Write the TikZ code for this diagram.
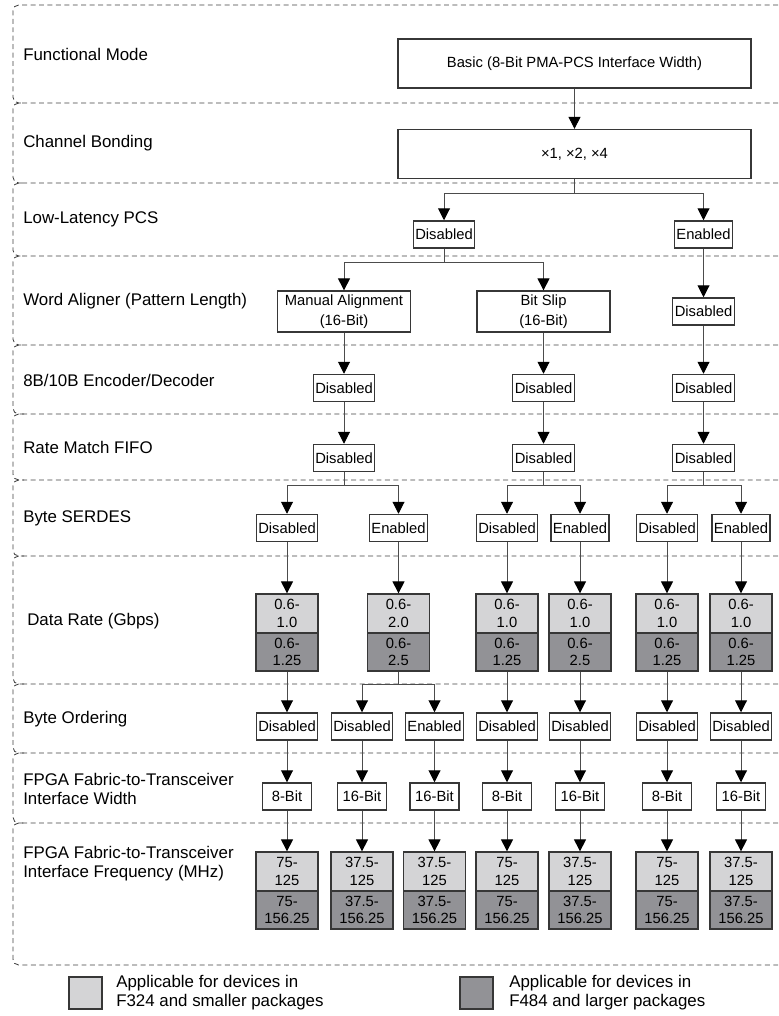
\documentclass[tikz,border=0pt]{standalone}
\usepackage{fontspec}
\setmainfont{Liberation Sans}
\usetikzlibrary{arrows.meta,positioning,calc}
\definecolor{pkglight}{RGB}{212,212,214}
\definecolor{pkgdark}{RGB}{146,146,150}
\definecolor{edge}{RGB}{55,55,55}

\begin{document}
\begin{tikzpicture}[
    x=0.025cm, y=-0.025cm,
    font=\fontsize{10.5}{12.5}\selectfont,
    sect/.style={draw=black!75, dash pattern=on 3.5pt off 2.5pt, line width=0.6pt, rounded corners=4pt},
    lbl/.style={anchor=west, align=left, inner sep=0pt, font=\fontsize{12}{13.5}\selectfont},
    opt/.style={draw=edge, line width=0.9pt, fill=white, minimum height=0.68cm, inner xsep=0.05cm, inner ysep=0pt},
    wide/.style={opt, minimum width=8.825cm, minimum height=1.225cm},
    twoline/.style={opt, minimum width=3.325cm, minimum height=1.025cm, align=center, font=\fontsize{10.5}{14}\selectfont},
    bits/.style={opt, minimum width=1.225cm},
    lo/.style={draw=edge, line width=0.9pt, fill=pkglight, minimum width=1.55cm, minimum height=0.975cm, inner sep=0pt, align=center},
    hi/.style={lo, fill=pkgdark, minimum height=0.95cm},
    arrow/.style={-{Triangle[length=8.5pt, width=8.5pt, color=black]}, draw=black!70, line width=0.7pt}
]
\useasboundingbox (0,0) rectangle (778,1016);

% dashed rows
\foreach \t/\b in {5/103, 103/183, 183/256, 256/345, 345/414, 414/480, 480/556, 556/684, 684/753, 753/823}
  \draw[sect] (778,\t) -- (13,\t) -- (13,\b) -- (24,\b);
\draw[sect] (778,823) -- (13,823) -- (13,965) -- (778,965);

% row labels
\node[lbl] (l1) at (23,54) {Functional Mode};
\node[lbl] (l2) at (23,143) {Channel Bonding};
\node[lbl] (l3) at (23,219.5) {Low-Latency PCS};
\node[lbl] (l4) at (23,301) {Word Aligner (Pattern Length)};
\node[lbl] (l5) at (23,380) {8B/10B Encoder/Decoder};
\node[lbl] (l6) at (23,447) {Rate Match FIFO};
\node[lbl] (l7) at (23,518) {Byte SERDES};
\node[lbl] (l8) at (27,621) {Data Rate (Gbps)};
\node[lbl] (l9) at (23,719) {Byte Ordering};
\node[lbl] (l10) at (23,789) {FPGA Fabric-to-Transceiver\\Interface Width};
\node[lbl] (l11) at (23,864) {FPGA Fabric-to-Transceiver\\Interface Frequency (MHz)};

% upper part
\node[wide] (fm) at (574.5,63.5) {Basic (8-Bit PMA-PCS Interface Width)};
\node[wide] (cb) at (574.5,154) {×1, ×2, ×4};
\node[opt] (ll1) at (444,234.5) {Disabled};
\node[opt] (ll2) at (703.5,234.5) {Enabled};
\node[twoline] (wa1) at (344,311.5) {Manual Alignment\\(16-Bit)};
\node[twoline] (wa2) at (543.5,311.5) {Bit Slip\\(16-Bit)};
\node[opt] (wa3) at (703.5,311.5) {Disabled};
\node[opt] (ed1) at (344,388) {Disabled};
\node[opt] (ed2) at (543.5,388) {Disabled};
\node[opt] (ed3) at (703.5,388) {Disabled};
\node[opt] (rm1) at (344,458) {Disabled};
\node[opt] (rm2) at (543.5,458) {Disabled};
\node[opt] (rm3) at (703.5,458) {Disabled};

% byte serdes
\node[opt] (sd1) at (287,528) {Disabled};
\node[opt] (sd2) at (398.5,528) {Enabled};
\node[opt] (sd3) at (507,528) {Disabled};
\node[opt] (sd4) at (580,528) {Enabled};
\node[opt] (sd5) at (667,528) {Disabled};
\node[opt] (sd6) at (741,528) {Enabled};

% data rate
\node[lo] (r1t) at (287,613.5) {0.6-\\1.0};
\node[hi] (r1b) at (287,652) {0.6-\\1.25};
\node[lo] (r2t) at (398.5,613.5) {0.6-\\2.0};
\node[hi] (r2b) at (398.5,652) {0.6-\\2.5};
\node[lo] (r3t) at (507,613.5) {0.6-\\1.0};
\node[hi] (r3b) at (507,652) {0.6-\\1.25};
\node[lo] (r4t) at (580,613.5) {0.6-\\1.0};
\node[hi] (r4b) at (580,652) {0.6-\\2.5};
\node[lo] (r5t) at (667,613.5) {0.6-\\1.0};
\node[hi] (r5b) at (667,652) {0.6-\\1.25};
\node[lo] (r6t) at (741,613.5) {0.6-\\1.0};
\node[hi] (r6b) at (741,652) {0.6-\\1.25};

% byte ordering
\node[opt] (bo1) at (287,726.5) {Disabled};
\node[opt] (bo2) at (362,726.5) {Disabled};
\node[opt] (bo3) at (434.5,726.5) {Enabled};
\node[opt] (bo4) at (507,726.5) {Disabled};
\node[opt] (bo5) at (580,726.5) {Disabled};
\node[opt] (bo6) at (667,726.5) {Disabled};
\node[opt] (bo7) at (741,726.5) {Disabled};

% interface width
\node[bits] (iw1) at (287,796.5) {8-Bit};
\node[bits] (iw2) at (362,796.5) {16-Bit};
\node[bits] (iw3) at (434.5,796.5) {16-Bit};
\node[bits] (iw4) at (507,796.5) {8-Bit};
\node[bits] (iw5) at (580,796.5) {16-Bit};
\node[bits] (iw6) at (667,796.5) {8-Bit};
\node[bits] (iw7) at (741,796.5) {16-Bit};

% interface frequency
\node[lo] (f1t) at (287,871.5) {75-\\125};
\node[hi] (f1b) at (287,910) {75-\\156.25};
\node[lo] (f2t) at (362,871.5) {37.5-\\125};
\node[hi] (f2b) at (362,910) {37.5-\\156.25};
\node[lo] (f3t) at (434.5,871.5) {37.5-\\125};
\node[hi] (f3b) at (434.5,910) {37.5-\\156.25};
\node[lo] (f4t) at (507,871.5) {75-\\125};
\node[hi] (f4b) at (507,910) {75-\\156.25};
\node[lo] (f5t) at (580,871.5) {37.5-\\125};
\node[hi] (f5b) at (580,910) {37.5-\\156.25};
\node[lo] (f6t) at (667,871.5) {75-\\125};
\node[hi] (f6b) at (667,910) {75-\\156.25};
\node[lo] (f7t) at (741,871.5) {37.5-\\125};
\node[hi] (f7b) at (741,910) {37.5-\\156.25};

% connectors
\draw[arrow] (fm) -- (cb);
\draw[arrow] (cb.south) -- ++(0,14) -| (ll1.north);
\draw[arrow] (cb.south) -- ++(0,14) -| (ll2.north);
\draw[arrow] (ll1.south) -- ++(0,14) -| (wa1.north);
\draw[arrow] (ll1.south) -- ++(0,14) -| (wa2.north);
\foreach \i/\j in {ll2/wa3, wa1/ed1, wa2/ed2, wa3/ed3, ed1/rm1, ed2/rm2, ed3/rm3}
  \draw[arrow] (\i) -- (\j);
\foreach \i/\j/\k in {rm1/sd1/sd2, rm2/sd3/sd4, rm3/sd5/sd6} {
  \draw[arrow] (\i.south) -- ++(0,13) -| (\j.north);
  \draw[arrow] (\i.south) -- ++(0,13) -| (\k.north);
}
\foreach \i/\j in {sd1/r1t, sd2/r2t, sd3/r3t, sd4/r4t, sd5/r5t, sd6/r6t}
  \draw[arrow] (\i) -- (\j);
\draw[arrow] (r2b.south) -- ++(0,13) -| (bo2.north);
\draw[arrow] (r2b.south) -- ++(0,13) -| (bo3.north);
\foreach \i/\j in {r1b/bo1, r3b/bo4, r4b/bo5, r5b/bo6, r6b/bo7}
  \draw[arrow] (\i) -- (\j);
\foreach \i in {1,...,7} {
  \draw[arrow] (bo\i) -- (iw\i);
  \draw[arrow] (iw\i) -- (f\i t);
}

% legend
\node[lo, minimum width=0.825cm, minimum height=0.8cm] (k1) at (85.5,993) {};
\node[lbl] (k1t) at (116,993) {Applicable for devices in\\F324 and smaller packages};
\node[hi, minimum width=0.825cm, minimum height=0.8cm] (k2) at (476.5,993) {};
\node[lbl] (k2t) at (509,993) {Applicable for devices in\\F484 and larger packages};

\end{tikzpicture}
\end{document}
